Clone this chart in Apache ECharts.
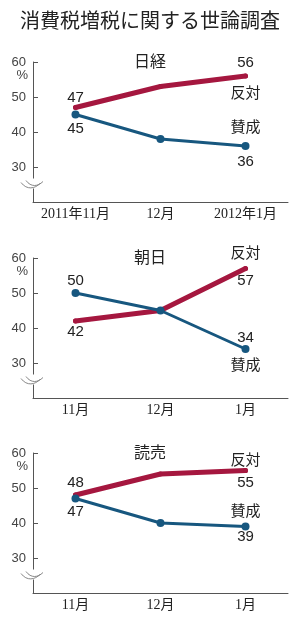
<!DOCTYPE html>
<html>
<head>
<meta charset="utf-8">
<script src="https://cdn.jsdelivr.net/npm/echarts@6/dist/echarts.min.js"></script>
<style>
  html, body { margin: 0; padding: 0; background: #fff; }
  #main { width: 300px; height: 617px; }
</style>
</head>
<body>
<div id="main"></div>
<script>
// data
var title = '消費税増税に関する世論調査';
var paperNames = ['日経', '朝日', '読売'];
var monthsFirst = ['2011年11月', '12月', '2012年1月'];
var months = ['11月', '12月', '1月'];
var seriesNames = ['反対', '賛成'];
var nikkeiHantai = [47, 53, 56];
var nikkeiSansei = [45, 38, 36];
var asahiHantai = [42, 45, 57];
var asahiSansei = [50, 45, 34];
var yomiuriHantai = [48, 54, 55];
var yomiuriSansei = [47, 40, 39];
var yMin = 20, yMax = 60, yStep = 10;
var breakAt = 25;

var panelData = [
  { cats: monthsFirst, hantai: nikkeiHantai, sansei: nikkeiSansei },
  { cats: months, hantai: asahiHantai, sansei: asahiSansei },
  { cats: months, hantai: yomiuriHantai, sansei: yomiuriSansei }
];

// layout / label placement (dy of value, dy of series name)
var gridTops = [62, 258, 453];
var labelSpec = [
  { hantai: [[-10], null, [-13, 18]], sansei: [[14], null, [16, -18]] },
  { hantai: [[11], null, [12, -15]], sansei: [[-12], null, [-11, 17]] },
  { hantai: [[-12], null, [12, -10]], sansei: [[13], null, [10, -15]] }
];

var RED = '#a5173f';
var BLUE = '#17577f';
var SANS = "'Liberation Sans', Arial, 'Noto Sans CJK JP', sans-serif";
var SERIF = "'Liberation Serif', 'Noto Sans CJK JP', serif";

function buildData(values, specs, name) {
  return values.map(function (v, i) {
    var s = specs[i];
    if (!s) return { value: v };
    var lines = [{ t: String(v), y: s[0] }];
    if (s[1] != null) lines.push({ t: name, y: s[1] });
    lines.sort(function (a, b) { return a.y - b.y; });
    var lab = { show: true, position: 'inside', fontSize: 15, color: '#222', fontFamily: SANS };
    if (lines.length === 1) {
      lab.offset = [0, lines[0].y];
      lab.lineHeight = 18;
      lab.formatter = lines[0].t;
    } else {
      lab.offset = [0, (lines[0].y + lines[1].y) / 2];
      lab.lineHeight = lines[1].y - lines[0].y;
      lab.formatter = lines[0].t + '\n' + lines[1].t;
    }
    return { value: v, label: lab };
  });
}

var chart = echarts.init(document.getElementById('main'));

var titles = [{
  text: title, left: 'center', top: 5,
  textStyle: { fontSize: 20, fontWeight: 'normal', color: '#222', fontFamily: "'Noto Sans CJK JP', sans-serif" }
}];
var grids = [], xAxes = [], yAxes = [], series = [];

panelData.forEach(function (p, k) {
  titles.push({
    text: paperNames[k], left: 'center', top: gridTops[k] - 14,
    textStyle: { fontSize: 16, fontWeight: 'normal', color: '#222', fontFamily: "'Noto Sans CJK JP', sans-serif" }
  });
  grids.push({ left: 33, right: 12, top: gridTops[k], height: 140 });
  xAxes.push({
    type: 'category', gridIndex: k, data: p.cats, boundaryGap: true,
    axisLine: { lineStyle: { color: '#555' } },
    axisTick: { inside: true, alignWithLabel: true, length: 4, lineStyle: { color: '#555' } },
    axisLabel: { interval: 0, fontSize: 14, color: '#222', fontFamily: SERIF, margin: 5 },
    splitLine: { show: false }
  });
  yAxes.push({
    type: 'value', gridIndex: k, min: yMin, max: yMax, interval: yStep,
    name: '%', nameLocation: 'end', nameGap: -13,
    nameTextStyle: { align: 'right', verticalAlign: 'middle', padding: [0, 5, 0, 0], fontSize: 13, color: '#444', fontFamily: SANS },
    axisLine: { show: true, lineStyle: { color: '#555' } },
    axisTick: { show: true, inside: true, length: 5, lineStyle: { color: '#555' } },
    axisLabel: {
      fontSize: 13, color: '#444', fontFamily: SANS, margin: 7,
      formatter: function (v) { return v === yMin ? '' : String(v); }
    },
    splitLine: { show: false }
  });
  series.push({
    name: seriesNames[0], type: 'line', xAxisIndex: k, yAxisIndex: k, z: 2,
    data: buildData(p.hantai, labelSpec[k].hantai, seriesNames[0]),
    symbol: 'circle', symbolSize: 5,
    itemStyle: { color: RED },
    lineStyle: { color: RED, width: 5, cap: 'round' },
    emphasis: { disabled: true }, animation: false
  });
  series.push({
    name: seriesNames[1], type: 'line', xAxisIndex: k, yAxisIndex: k, z: 3,
    data: buildData(p.sansei, labelSpec[k].sansei, seriesNames[1]),
    symbol: 'circle', symbolSize: 8,
    itemStyle: { color: BLUE },
    lineStyle: { color: BLUE, width: 3 },
    emphasis: { disabled: true }, animation: false
  });
});

chart.setOption({
  backgroundColor: '#fff',
  animation: false,
  title: titles,
  grid: grids,
  xAxis: xAxes,
  yAxis: yAxes,
  series: series
});

// small break marks on each y axis
var marks = [];
panelData.forEach(function (p, k) {
  var pt = chart.convertToPixel({ gridIndex: k }, [0, breakAt]);
  var x = 33, y = pt[1];
  marks.push({
    type: 'rect', shape: { x: x - 2, y: y - 6, width: 4, height: 10 },
    style: { fill: '#fff' }, z: 10
  });
  marks.push({
    type: 'bezierCurve',
    shape: { x1: x - 12, y1: y - 2, x2: x + 7, y2: y - 1, cpx1: x - 6, cpy1: y + 6, cpx2: x + 2, cpy2: y + 4 },
    style: { stroke: '#888', lineWidth: 1, fill: null }, z: 11
  });
  marks.push({
    type: 'bezierCurve',
    shape: { x1: x - 7, y1: y - 4, x2: x + 10, y2: y - 3, cpx1: x - 2, cpy1: y + 3, cpx2: x + 5, cpy2: y + 2 },
    style: { stroke: '#888', lineWidth: 1, fill: null }, z: 11
  });
});
chart.setOption({ graphic: marks });
</script>
</body>
</html>
